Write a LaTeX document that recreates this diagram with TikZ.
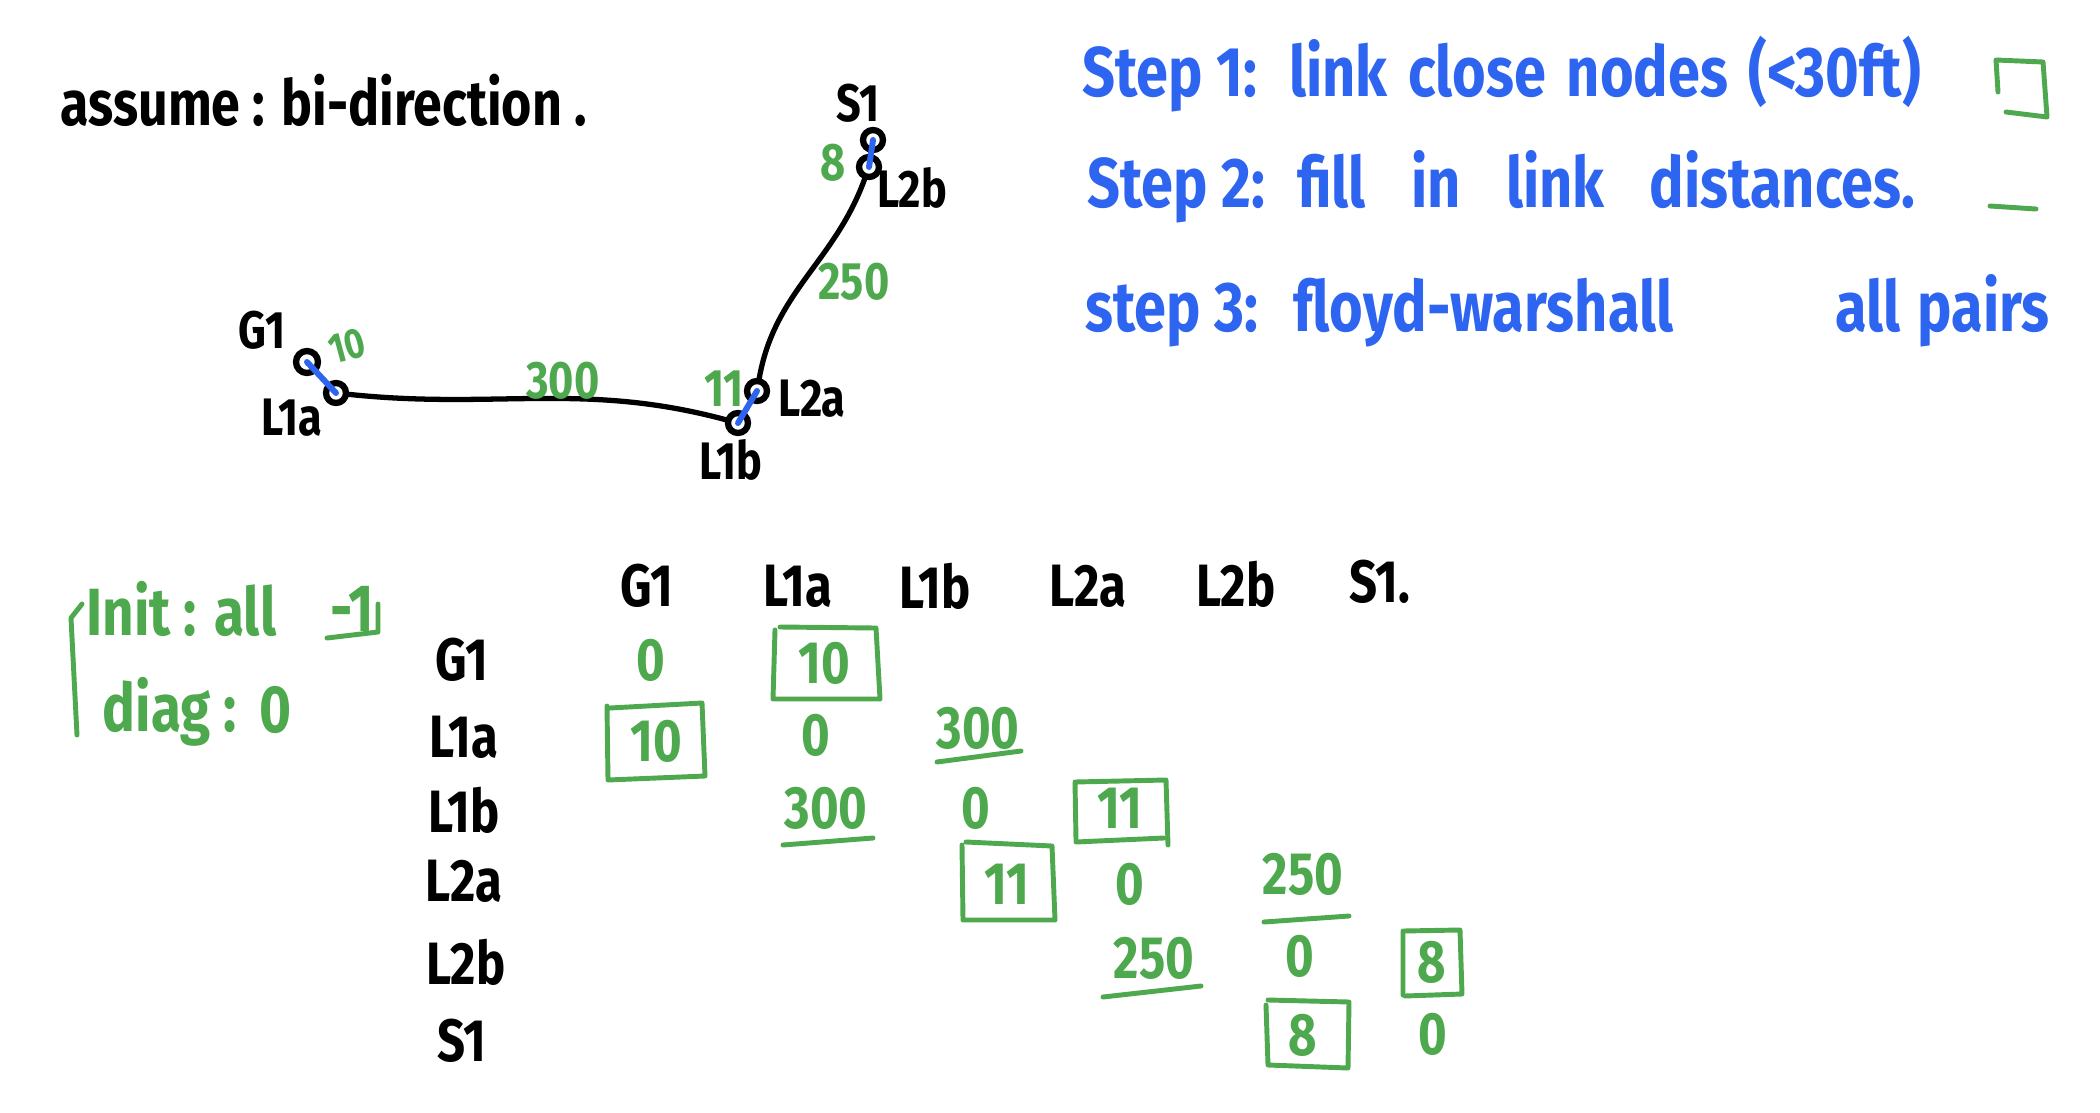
\documentclass[tikz,border=0pt]{standalone}
\usepackage{fontspec}
\setmainfont{Fira Sans}[FakeStretch=0.82]
\definecolor{hblue}{RGB}{45,100,240}
\definecolor{hgreen}{RGB}{78,168,78}
\begin{document}
\begin{tikzpicture}[x=0.01cm,y=-0.01cm,
  vtx/.style={circle,draw=black,line width=1.8pt,minimum size=0.2cm,inner sep=0pt},
  lbl/.style={text=black,font=\fontsize{15}{17}\selectfont\bfseries,inner sep=1pt},
  bedge/.style={draw=hblue,line width=1.7pt,line cap=round},
  kedge/.style={draw=black,line width=1.5pt,line cap=round},
  gnum/.style={text=hgreen,font=\fontsize{15}{17}\selectfont\bfseries,inner sep=1pt},
  stepline/.style={text=hblue,anchor=west,font=\fontsize{20}{24}\selectfont\bfseries,inner sep=0pt},
  gmark/.style={draw=hgreen,line width=1.4pt,line cap=round,line join=round},
  gtxt/.style={text=hgreen,font=\fontsize{19}{22}\selectfont\bfseries,inner sep=0pt},
  mhead/.style={text=black,font=\fontsize{17}{20}\selectfont\bfseries,inner sep=1pt},
  mval/.style={text=hgreen,font=\fontsize{17}{20}\selectfont\bfseries,inner sep=1pt}]
\fill[white] (0,0) rectangle (2100,1112);
\useasboundingbox (0,0) rectangle (2100,1112);

% title
\node[text=black,anchor=west,font=\fontsize{18}{21}\selectfont\bfseries,inner sep=0pt] (assume) at (60,100) {assume : bi-direction .};

% graph
\node[vtx,minimum size=0.22cm] (G1) at (307,362) {};
\node[vtx] (L1a) at (336,393) {};
\node[vtx] (L1b) at (738,423) {};
\node[vtx] (L2a) at (757,391) {};
\node[vtx] (L2b) at (869,167) {};
\node[vtx] (S1) at (873,140) {};
\node[lbl] (tG1) at (262,330) {G1};
\node[lbl] (tL1a) at (292,418) {L1a};
\node[lbl] (tL1b) at (731,460) {L1b};
\node[lbl] (tL2a) at (812,399) {L2a};
\node[lbl] (tL2b) at (912,188) {L2b};
\node[lbl] (tS1) at (858,103) {S1};
\draw[kedge] (L1a) to[out=-6,in=165] (L1b);
\draw[kedge] (L2a) to[out=80,in=250] (L2b);
\draw[bedge] (G1.center) -- (L1a.center);
\draw[bedge] (L1b.center) -- (L2a.center);
\draw[bedge] (S1.center) -- (L2b.center);
\node[gnum,font=\fontsize{12}{14}\selectfont\bfseries,rotate=15] (w10) at (347,346) {10};
\node[gnum] (w300) at (563,381) {300};
\node[gnum] (w11) at (724,389) {11};
\node[gnum] (w250) at (854,282) {250};
\node[gnum] (w8) at (833,163) {8};

% steps
\node[stepline] (s1) at (1082,74) {Step 1:\hspace{0.45em}link\hspace{2pt} close\hspace{2pt} nodes\hspace{2pt} (<30ft)};
\node[stepline] (s2) at (1087,187) {Step 2:\hspace{0.45em}fill\hspace{9pt} in\hspace{9pt} link\hspace{9pt} distances.};
\node[stepline] (s3) at (1085,311) {step 3:\hspace{0.5em}floyd-warshall\hspace{46pt}all\hspace{1pt} pairs};
\draw[gmark] (1998,92) -- (1996,60) -- (2043,62) -- (2047,117) -- (2006,112);
\draw[gmark] (1990,206) -- (2036,209);

% init
\node[gtxt,anchor=west] (init) at (86,609) {Init : all};
\node[gtxt] (m1) at (352,609) {-1};
\draw[gmark] (327,638) -- (378,632) -- (378,604);
\node[gtxt,anchor=west] (diag) at (102,712) {diag :};
\node[gtxt] (d0) at (276,710) {0};
\draw[gmark] (82,604) -- (71,618) -- (77,735);

% matrix headers
\node[mhead] (hG1) at (647,586) {G1};
\node[mhead] (hL1a) at (798,586) {L1a};
\node[mhead] (hL1b) at (935,586) {L1b};
\node[mhead] (hL2a) at (1088,586) {L2a};
\node[mhead] (hL2b) at (1236,584) {L2b};
\node[mhead] (hS1) at (1380,582) {S1.};
\node[mhead] (rG1) at (462,660) {G1};
\node[mhead] (rL1a) at (464,737) {L1a};
\node[mhead] (rL1b) at (464,810) {L1b};
\node[mhead] (rL2a) at (464,881) {L2a};
\node[mhead] (rL2b) at (466,962) {L2b};
\node[mhead] (rS1) at (462,1041) {S1};

% matrix values
\node[mval] (v11) at (651,660) {0};
\node[mval] (v12) at (824,663) {10};
\draw[gmark] (775,630) -- (773,699) -- (880,699) -- (876,628) -- (780,627);
\node[mval] (v21) at (656,741) {10};
\draw[gmark] (607,706) -- (608,780) -- (705,776) -- (702,703) -- (610,708);
\node[mval] (v22) at (816,735) {0};
\node[mval] (v23) at (978,728) {300};
\draw[gmark] (937,762) -- (1021,751);
\node[mval] (v32) at (826,808) {300};
\draw[gmark] (783,845) -- (873,838);
\node[mval] (v33) at (976,808) {0};
\node[mval] (v34) at (1120,808) {11};
\draw[gmark] (1076,840) -- (1075,782) -- (1166,780) -- (1168,845);
\draw[gmark] (1076,842) -- (1164,838);
\node[mval] (v43) at (1007,884) {11};
\draw[gmark] (962,845) -- (963,920) -- (1055,920) -- (1052,846) -- (966,842);
\node[mval] (v44) at (1130,884) {0};
\node[mval] (v45) at (1303,874) {250};
\draw[gmark] (1264,922) -- (1349,916);
\node[mval] (v54) at (1154,958) {250};
\draw[gmark] (1103,997) -- (1201,986);
\node[mval] (v55) at (1300,956) {0};
\node[mval] (v56) at (1432,962) {8};
\draw[gmark] (1403,995) -- (1403,931) -- (1460,930) -- (1462,994) -- (1405,996);
\node[mval] (v65) at (1303,1035) {8};
\draw[gmark] (1266,1005) -- (1268,1065) -- (1348,1068) -- (1349,1002) -- (1268,1000);
\node[mval] (v66) at (1433,1034) {0};
\end{tikzpicture}
\end{document}
